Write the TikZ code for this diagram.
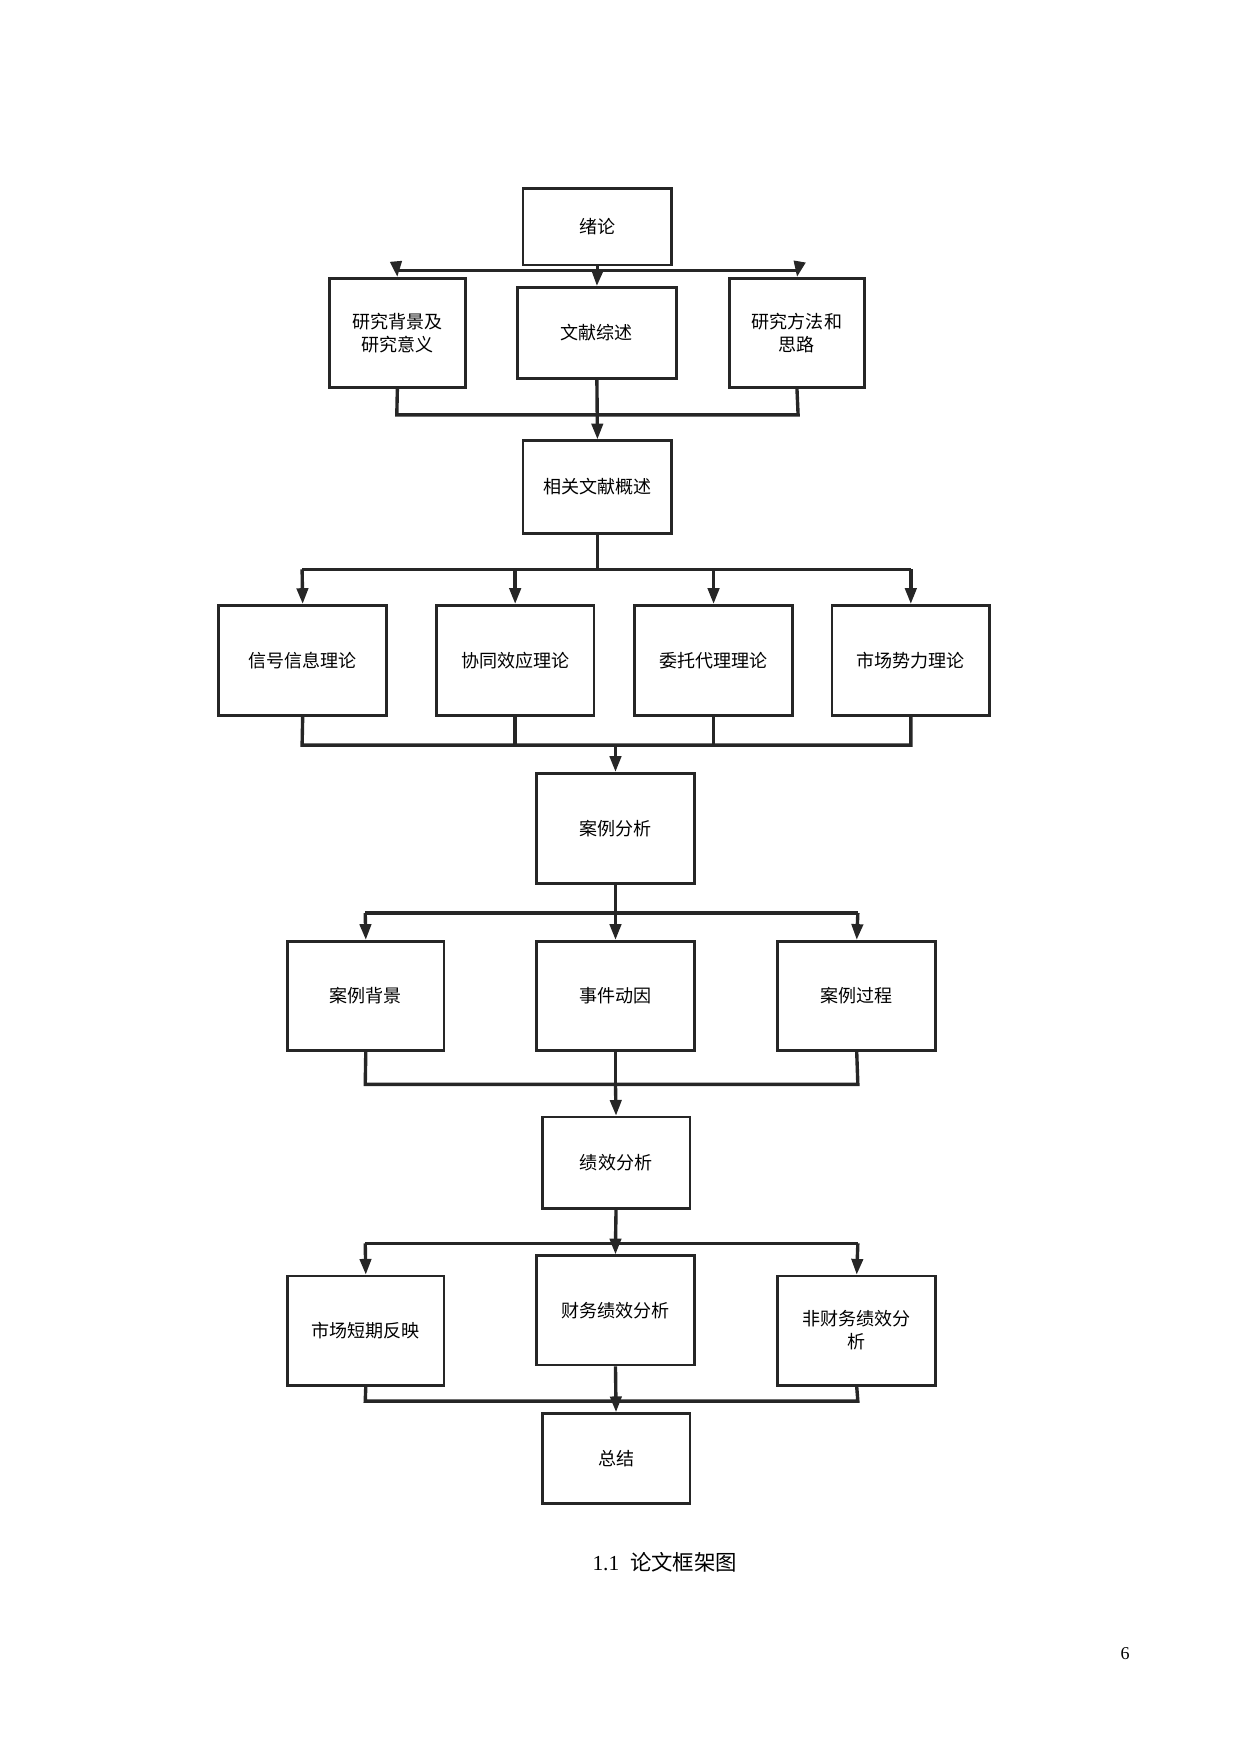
\documentclass[tikz,border=0pt]{standalone}
\usepackage{fontspec}
\setmainfont{Liberation Serif}
\newfontfamily\cjk{Noto Sans CJK SC}
\usetikzlibrary{arrows.meta}
\begin{document}
\begin{tikzpicture}[x=0.5pt,y=-0.5pt,
  bx/.style={draw=black!85,line width=1.2pt,inner sep=0pt,font=\cjk\fontsize{8}{10}\selectfont,align=center},
  ln/.style={draw=black!85,line width=1.5pt},
  ar/.style={ln,-{Triangle[length=7pt,width=5pt]}}]
\useasboundingbox (0,0) rectangle (1100,1556);
\newcommand\bxn[6]{\node[bx,minimum width=#3*0.5pt-#2*0.5pt,minimum height=#5*0.5pt-#4*0.5pt] (#1) at ({(#2+#3)/2},{(#4+#5)/2}) {#6};}
\bxn{a}{464}{596}{167}{235}{绪论}
\bxn{b1}{292}{413}{247}{344}{研究背景及\\研究意义}
\bxn{b2}{459}{600}{255}{336}{文献综述}
\bxn{b3}{647}{767}{247}{344}{研究方法和\\思路}
\bxn{c}{464}{596}{391}{473}{相关文献概述}
\bxn{d1}{194}{343}{537}{635}{信号信息理论}
\bxn{d2}{387}{527}{537}{635}{协同效应理论}
\bxn{d3}{563}{703}{537}{635}{委托代理理论}
\bxn{d4}{738}{878}{537}{635}{市场势力理论}
\bxn{e}{476}{616}{686}{784}{案例分析}
\bxn{f1}{255}{394}{835}{932}{案例背景}
\bxn{f2}{476}{616}{835}{932}{事件动因}
\bxn{f3}{690}{830}{835}{932}{案例过程}
\bxn{g}{481}{612}{991}{1072}{绩效分析}
\bxn{h1}{255}{394}{1132}{1229}{市场短期反映}
\bxn{h2}{476}{616}{1114}{1211}{}
\bxn{h3}{690}{830}{1132}{1229}{}
\node[bx,draw=none] at (546,1163) {财务绩效分析};
\node[bx,draw=none] at (760,1180) {非财务绩效分\\析};
\bxn{k}{481}{612}{1254}{1334}{总结}
% level 1
\coordinate (j1) at (530,240);
\draw[ln] (a.south) -- (j1);
\draw[ln] (352,240) -- (708,240);
\draw[ar] (352,240) -- (b1.north);
\draw[ar] (j1) -- (b2.north);
\draw[ar] (708,240) -- (b3.north);
\draw[ln] (b1.south) -- (352,368) -- (708,368) -- (b3.south);
\draw[ar] (b2.south) -- (c.north);
% level 2
\draw[ln] (c.south) -- (530,505);
\draw[ln] (268,505) -- (808,505);
\draw[ar] (268,505) -- (d1.north);
\draw[ar] (457,505) -- (d2.north);
\draw[ar] (633,505) -- (d3.north);
\draw[ar] (808,505) -- (d4.north);
\draw[ln] (d1.south) -- (268,661) -- (808,661) -- (d4.south);
\draw[ln] (d2.south) -- (457,661);
\draw[ln] (d3.south) -- (633,661);
\draw[ar] (546,661) -- (e.north);
% level 3
\draw[ln] (e.south) -- (546,810);
\draw[ln] (324,810) -- (761,810);
\draw[ar] (324,810) -- (f1.north);
\draw[ar] (546,810) -- (f2.north);
\draw[ar] (761,810) -- (f3.north);
\draw[ln] (f1.south) -- (324,962) -- (761,962) -- (f3.south);
\draw[ln] (f2.south) -- (546,962);
\draw[ar] (546,962) -- (g.north);
% level 4
\draw[ln] (g.south) -- (546,1103);
\draw[ln] (324,1103) -- (761,1103);
\draw[ar] (324,1103) -- (h1.north);
\draw[ar] (546,1103) -- (h2.north);
\draw[ar] (761,1103) -- (h3.north);
\draw[ln] (h1.south) -- (324,1243) -- (761,1243) -- (h3.south);
\draw[ar] (h2.south) -- (k.north);
\node[font=\fontsize{9.5}{11}\selectfont] (cap) at (580,1386) {图 1.1\ \ {\cjk 论文框架图}};
\node[font=\fontsize{8}{10}\selectfont] (pg) at (998,1467) {6};
\end{tikzpicture}
\end{document}
